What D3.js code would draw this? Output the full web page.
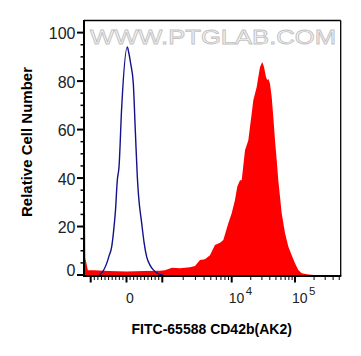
<!DOCTYPE html>
<html>
<head>
<meta charset="utf-8">
<script src="https://cdn.jsdelivr.net/npm/d3@7"></script>
<style>
  body { margin: 0; background: #fff; }
  svg { display: block; font-family: 'Liberation Sans', Arial, sans-serif; }
</style>
</head>
<body>
<script>
// les graduations
const Y_TICKS = [0, 20, 40, 60, 80, 100]
const X_MAJOR = [-1000, 0, 1000, 10000, 100000]
const X_LABEL_VALUES = [0, 10000, 100000]
const X_LABEL_BASE = ['0', '10', '10']
const X_LABEL_EXP = ['', '4', '5']

// contrôle (courbe bleue)
const CONTROL_X = [-768, -740, -656, -553, -489, -413, -363, -307, -257, -209, -134, 22, 61, 117, 190, 246, 302, 335, 425, 489, 564, 656, 749, 880, 1016]
const CONTROL_Y = [0, 0.3, 1.6, 4.8, 7.8, 11.7, 17.7, 26.8, 39.1, 44.6, 69.3, 94.1, 91.9, 87.2, 79.0, 59.7, 40.5, 33.0, 21.3, 13.6, 7.5, 4.1, 2.1, 0.6, 0]

// échantillon marqué (surface rouge)
const STAINED_X = [-1187, -1150, -1080, -900, -500, 0, 500, 940, 1090, 1380, 1800, 2500, 2960, 3490, 4120, 4860, 5740, 6790, 7570, 8940, 10000, 11270, 12260, 13530, 14390, 16230, 18300, 19460, 20700, 21940, 24830, 26320, 28000, 30440, 32380, 34830, 36510, 37870, 40280, 42850, 45410, 48310, 51380, 54480, 61650, 69500, 78390, 88700, 100000, 112700, 127600, 153000, 194600]
const STAINED_Y = [96, 7, 2, 2, 1.6, 1.4, 1.6, 1.8, 2, 3, 2.8, 3.2, 3.7, 6.2, 6.5, 8.2, 12.4, 13.3, 14.4, 21.4, 25.5, 30.9, 36.5, 39.1, 39.1, 51.5, 55.6, 61.2, 66.6, 72.1, 77.6, 81.7, 85.8, 87.9, 85.8, 81.7, 80.3, 81.0, 78.9, 73.4, 65.2, 55.6, 47.4, 39.1, 25.5, 17.3, 11.8, 8.2, 4.8, 2.1, 0.7, 0.3, 0]

// dimensions
const WIDTH = 361
const HEIGHT = 356
const LEFT = 84
const RIGHT = 340.7
const TOP = 20.5
const BOTTOM = 276

const svg = d3.select('body')
  .append('svg')
  .attr('width', WIDTH)
  .attr('height', HEIGHT)

// axe x biexponentiel simplifié : linéaire jusqu'à 10^3, logarithmique après
const biex = v => v <= 1000 ? v / 1000 : 1 + Math.log10(v / 1000)
const xScale = d3.scaleLinear()
  .domain([-1, 0, 1, 2, 3])
  .range([90.7, 126.5, 162.3, 231.7, 295])
const x = v => xScale(biex(v))

const yScale = d3.scaleLinear()
  .domain([0, 105])
  .range([275, TOP])

// filigrane
svg.append('text')
  .attr('x', 90)
  .attr('y', 44)
  .attr('textLength', 246)
  .attr('lengthAdjust', 'spacingAndGlyphs')
  .attr('font-size', 20)
  .attr('fill', '#f6f6f6')
  .attr('stroke', '#c2c2c2')
  .attr('stroke-width', 0.8)
  .text('WWW.PTGLAB.COM')

const plot = svg.append('g')

// surface rouge
plot.append('path')
  .datum(STAINED_X.map((v, i) => [v, STAINED_Y[i]]))
  .attr('fill', '#ff0000')
  .attr('d', d3.area()
    .x(d => x(d[0]))
    .y0(yScale(0))
    .y1(d => yScale(d[1])))

// courbe bleue
plot.append('path')
  .datum(CONTROL_X.map((v, i) => [v, CONTROL_Y[i]]))
  .attr('fill', 'none')
  .attr('stroke', '#12128a')
  .attr('stroke-width', 1.4)
  .attr('stroke-linejoin', 'round')
  .attr('d', d3.line()
    .x(d => x(d[0]))
    .y(d => yScale(d[1]))
    .curve(d3.curveMonotoneX))

// cadre
const frame = svg.append('g').attr('stroke', '#000')
frame.append('line').attr('x1', LEFT).attr('x2', RIGHT).attr('y1', TOP).attr('y2', TOP).attr('stroke-width', 1.3)
frame.append('line').attr('x1', RIGHT).attr('x2', RIGHT).attr('y1', TOP).attr('y2', BOTTOM).attr('stroke-width', 1.3)
frame.append('line').attr('x1', LEFT).attr('x2', LEFT).attr('y1', TOP - 0.6).attr('y2', BOTTOM + 1).attr('stroke-width', 2)
frame.append('line').attr('x1', LEFT).attr('x2', RIGHT + 0.6).attr('y1', BOTTOM).attr('y2', BOTTOM).attr('stroke-width', 2)

// graduations y
const yMinor = d3.range(5, 105, 5).filter(v => v % 20 !== 0)
frame.selectAll('.ymaj')
  .data(Y_TICKS)
  .enter()
  .append('line')
  .attr('x1', 77).attr('x2', LEFT)
  .attr('y1', d => yScale(d)).attr('y2', d => yScale(d))
  .attr('stroke-width', 2)
frame.selectAll('.ymin')
  .data(yMinor)
  .enter()
  .append('line')
  .attr('x1', 80.5).attr('x2', LEFT)
  .attr('y1', d => yScale(d)).attr('y2', d => yScale(d))
  .attr('stroke-width', 1.5)

svg.selectAll('.ylab')
  .data(Y_TICKS)
  .enter()
  .append('text')
  .attr('x', 75.5)
  .attr('y', d => yScale(d) + (d === 0 ? -5 : 1))
  .attr('dominant-baseline', 'central')
  .attr('text-anchor', 'end')
  .attr('font-size', 16)
  .attr('fill', '#222')
  .text(d => d)

// graduations x
const xMinor = [].concat(
  d3.range(-900, 0, 100),
  d3.range(100, 1000, 100),
  d3.range(2000, 10000, 1000),
  d3.range(20000, 100000, 10000),
  [200000, 300000, 400000, 500000]
)
frame.selectAll('.xmaj')
  .data(X_MAJOR)
  .enter()
  .append('line')
  .attr('x1', d => x(d)).attr('x2', d => x(d))
  .attr('y1', BOTTOM).attr('y2', 282.5)
  .attr('stroke-width', 2)
frame.selectAll('.xmin')
  .data(xMinor)
  .enter()
  .append('line')
  .attr('x1', d => x(d)).attr('x2', d => x(d))
  .attr('y1', BOTTOM).attr('y2', 280)
  .attr('stroke-width', 1)

const xLab = svg.selectAll('.xlab')
  .data(X_LABEL_VALUES)
  .enter()
  .append('text')
  .attr('x', (d, i) => x(d) - (i === 0 ? 0.5 : 3))
  .attr('y', 302.7)
  .attr('font-size', 14)
  .attr('fill', '#222')
xLab.append('tspan').text((d, i) => X_LABEL_BASE[i])
xLab.append('tspan')
  .attr('dy', -7.5)
  .attr('dx', 1.5)
  .attr('font-size', 11.5)
  .text((d, i) => X_LABEL_EXP[i])

// titres des axes
svg.append('text')
  .attr('x', 211.7)
  .attr('y', 333.5)
  .attr('text-anchor', 'middle')
  .attr('font-size', 14)
  .attr('font-weight', 'bold')
  .text('FITC-65588 CD42b(AK2)')

svg.append('text')
  .attr('transform', 'translate(32,142) rotate(-90)')
  .attr('text-anchor', 'middle')
  .attr('font-size', 15)
  .attr('font-weight', 'bold')
  .text('Relative Cell Number')
</script>
</body>
</html>
